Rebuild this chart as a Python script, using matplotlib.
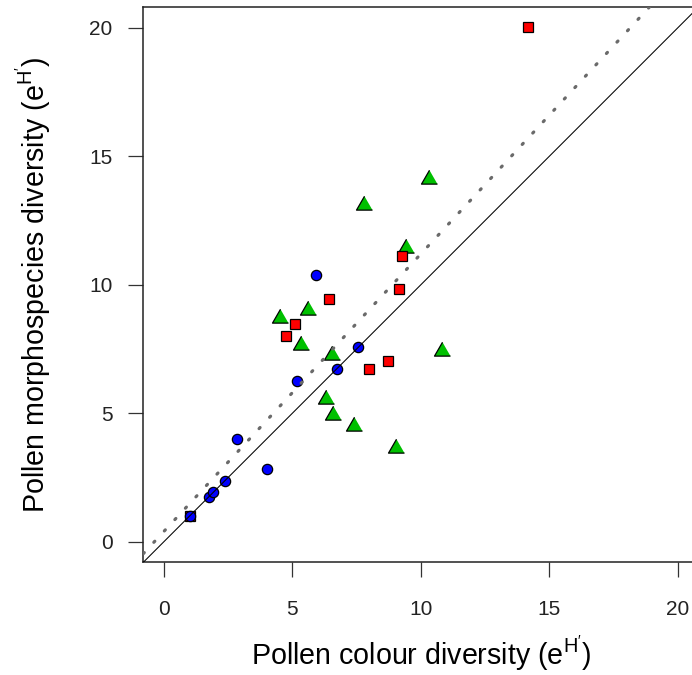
from matplotlib import pyplot as plt

plt.rcParams['font.family'] = ['Liberation Sans', 'DejaVu Sans']
plt.rcParams['mathtext.fontset'] = 'custom'
plt.rcParams['mathtext.rm'] = 'Liberation Sans'
plt.rcParams['mathtext.it'] = 'Liberation Sans'

# colour diversity (x) vs morphospecies diversity (y)
blue_x = [1.0, 1.77, 1.93, 2.36, 2.84, 4.01, 5.19, 5.9, 6.73, 7.55]
blue_y = [1.0, 1.75, 1.94, 2.36, 4.0, 2.83, 6.26, 10.39, 6.73, 7.56]

red_x = [1.0, 4.75, 5.11, 6.42, 7.99, 8.73, 9.15, 9.25, 14.17]
red_y = [1.0, 7.99, 8.48, 9.44, 6.73, 7.03, 9.84, 11.1, 20.02]

green_x = [4.52, 5.6, 5.33, 6.56, 6.29, 6.59, 7.41, 9.05, 10.84, 7.79, 10.3, 9.41]
green_y = [8.70, 9.0, 7.66, 7.27, 5.56, 4.95, 4.52, 3.65, 7.43, 13.1, 14.11, 11.44]

# fitted line (dotted) and 1:1 line
fit_intercept = 0.40
fit_slope = 1.08

ticks = [0, 5, 10, 15, 20]

fig = plt.figure(figsize=(6.92, 6.75), dpi=100)
ax = fig.add_axes([143.3 / 692, 1 - 562.3 / 675, 555.2 / 692, 555.2 / 675])

tri = [(0, 1), (-0.866, -0.5), (0.866, -0.5)]
ax.plot(green_x, green_y, linestyle='none', marker=tri, markersize=13.3,
        markerfacecolor='#00c000', markeredgecolor='black', markeredgewidth=0.9, zorder=2)
ax.plot(red_x, red_y, linestyle='none', marker='s', markersize=7.4,
        markerfacecolor='#ff0000', markeredgecolor='black', markeredgewidth=0.9, zorder=2)
ax.plot(blue_x, blue_y, linestyle='none', marker='o', markersize=7.4,
        markerfacecolor='#0000ff', markeredgecolor='black', markeredgewidth=0.9, zorder=3)

# lines go on top of the points, as in the original
ax.axline((0, 0), slope=1, color='black', lw=0.75, zorder=4)
ax.axline((0, fit_intercept), slope=fit_slope, color='#6a6a6a', lw=2.3,
          linestyle=(0, (0.45, 4.4)), dash_capstyle='round', zorder=4)

ax.set_xlim(-0.8, 20.8)
ax.set_ylim(-0.8, 20.8)
ax.set_xticks(ticks)
ax.set_yticks(ticks)
ax.tick_params(axis='both', direction='out', length=11, width=0.9, labelsize=15,
               color='#333333', labelcolor='#222222')
ax.tick_params(axis='x', pad=16)
ax.tick_params(axis='y', pad=11)
for s in ax.spines.values():
    s.set_linewidth(1.1)
    s.set_color('#222222')

ax.set_xlabel(r"Pollen colour diversity ($\mathrm{e^{H'}}$)", fontsize=20.6, labelpad=11)
ax.set_ylabel(r"Pollen morphospecies diversity ($\mathrm{e^{H'}}$)", fontsize=20.6, labelpad=26)

fig.savefig('out.png', dpi=100)
